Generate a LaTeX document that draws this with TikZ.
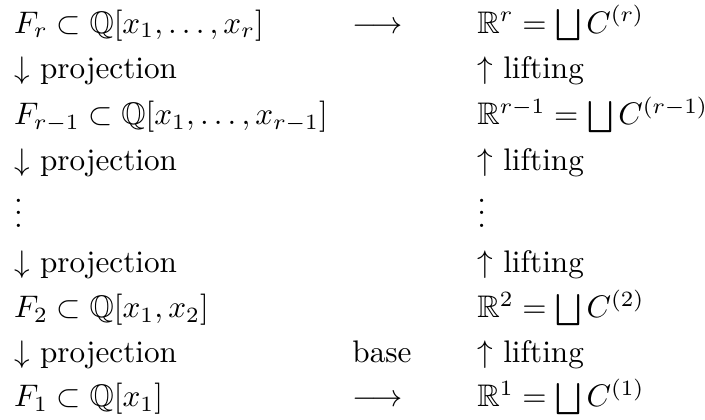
\documentclass[tikz,border=0pt]{standalone}
\usepackage{amsmath,amssymb}
\usepackage{tikz}
\usetikzlibrary{positioning}

\begin{document}
\begin{tikzpicture}[x=1pt, y=1pt, every node/.style={anchor=base west, inner sep=0pt, outer sep=0pt}]
  \useasboundingbox (0,0) rectangle (226,-134.6);

  % Polynomial side
  \node (Fr)  at (4.5, -10.6) {$F_r \subset \mathbb{Q}[x_1,\dots,x_r]$};
  \node (p1)  at (4.5, -25.3) {$\downarrow$ projection};
  \node (Fr1) at (4.5, -39.9) {$F_{r-1} \subset \mathbb{Q}[x_1,\dots,x_{r-1}]$};
  \node (p2)  at (4.5, -54.5) {$\downarrow$ projection};
  \node (vl)  at (4.5, -72.8) {$\vdots$};
  \node (p3)  at (4.5, -87.5) {$\downarrow$ projection};
  \node (F2)  at (4.5, -101.8) {$F_2 \subset \mathbb{Q}[x_1,x_2]$};
  \node (p4)  at (4.5, -116.1) {$\downarrow$ projection};
  \node (F1)  at (4.5, -130.4) {$F_1 \subset \mathbb{Q}[x_1]$};

  % Middle column
  \node (ar1)  at (113, -10.6) {$\longrightarrow$};
  \node (base) at (113, -116.1) {base};
  \node (ar2)  at (113, -130.4) {$\longrightarrow$};

  % Cell decomposition side
  \node (Rr)  at (153, -10.6) {$\mathbb{R}^r = \bigsqcup C^{(r)}$};
  \node (l1)  at (153, -25.3) {$\uparrow$ lifting};
  \node (Rr1) at (153, -39.9) {$\mathbb{R}^{r-1} = \bigsqcup C^{(r-1)}$};
  \node (l2)  at (153, -54.5) {$\uparrow$ lifting};
  \node (vr)  at (153, -72.8) {$\vdots$};
  \node (l3)  at (153, -87.5) {$\uparrow$ lifting};
  \node (R2)  at (153, -101.8) {$\mathbb{R}^2 = \bigsqcup C^{(2)}$};
  \node (l4)  at (153, -116.1) {$\uparrow$ lifting};
  \node (R1)  at (153, -130.4) {$\mathbb{R}^1 = \bigsqcup C^{(1)}$};
\end{tikzpicture}
\end{document}
